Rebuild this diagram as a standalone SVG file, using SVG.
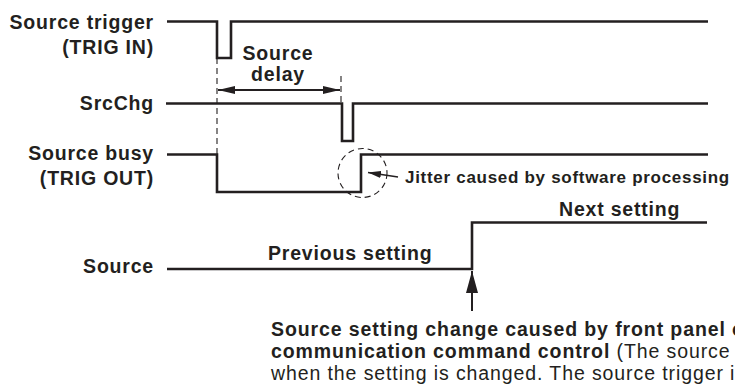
<svg xmlns="http://www.w3.org/2000/svg" width="735" height="385" viewBox="0 0 735 385">
<style>
.wave{fill:none;stroke:#231f20;stroke-width:2.6;stroke-linejoin:miter;stroke-linecap:butt}
.dash{fill:none;stroke:#231f20;stroke-width:1.1;stroke-dasharray:6 4}
.arr{fill:none;stroke:#231f20}
.lbl{font-family:"Liberation Sans",Arial,sans-serif;font-weight:bold;font-size:19.5px;fill:#231f20;letter-spacing:0.8px}
.end{text-anchor:end}
.note{font-family:"Liberation Sans",Arial,sans-serif;font-size:19.5px;fill:#231f20;letter-spacing:0.9px}
.b{font-weight:bold}
</style>
<defs>
<marker id="mDelay" markerUnits="userSpaceOnUse" markerWidth="18" markerHeight="10" refX="17" refY="4" orient="auto-start-reverse">
<path d="M0,0 L17,4 L0,8 z" fill="#231f20"/>
</marker>
<marker id="mJit" markerUnits="userSpaceOnUse" markerWidth="14" markerHeight="8" refX="13" refY="3.5" orient="auto">
<path d="M0,0 L13,3.5 L0,7 z" fill="#231f20"/>
</marker>
<marker id="mUp" markerUnits="userSpaceOnUse" markerWidth="24" markerHeight="14" refX="22" refY="6" orient="auto">
<path d="M0,0 L22,6 L0,12 z" fill="#231f20"/>
</marker>
</defs>

<g id="sig-trigger">
<text class="lbl end" x="154" y="28.5">Source trigger</text>
<text class="lbl end" x="154" y="54">(TRIG IN)</text>
<path class="wave" d="M167,21.5 H217 V58 H231 V21.5 H708"/>
</g>

<g id="sig-srcchg">
<text class="lbl end" x="154" y="110">SrcChg</text>
<path class="wave" d="M166,103.5 H342 V141 H353 V103.5 H708"/>
</g>

<g id="sig-busy">
<text class="lbl end" x="154" y="160">Source busy</text>
<text class="lbl end" x="154" y="184.5">(TRIG OUT)</text>
<path class="wave" d="M167,154.5 H217 V192 H361 V154.5 H708"/>
</g>

<g id="sig-source">
<text class="lbl end" x="154" y="273">Source</text>
<path class="wave" d="M167,269 H472 V222.5 H707"/>
<text class="lbl" x="268" y="260">Previous setting</text>
<text class="lbl" x="559" y="216">Next setting</text>
</g>

<g id="delay-label">
<text class="lbl" x="278" y="60" text-anchor="middle">Source</text>
<text class="lbl" x="278" y="81" text-anchor="middle">delay</text>
</g>

<g id="jitter">
<circle cx="362.5" cy="173" r="24.5" class="dash"/>
<text class="lbl" x="405" y="183" style="font-size:17px" textLength="325" lengthAdjust="spacing">Jitter caused by software processing</text>
</g>

<g id="note">
<text class="note b" x="271" y="336">Source setting change caused by front panel or</text>
<text class="note" x="271" y="358"><tspan class="b">communication command control</tspan> (The source</text>
<text class="note" x="271" y="380">when the setting is changed. The source trigger is</text>
</g>

<g id="connectors">
<line class="dash" x1="217" y1="58" x2="217" y2="154"/>
<line class="dash" x1="341" y1="76" x2="341" y2="103"/>
<line class="arr" x1="218" y1="90" x2="340" y2="90" stroke-width="2" marker-start="url(#mDelay)" marker-end="url(#mDelay)"/>
<line class="arr" x1="398" y1="177" x2="368" y2="172.5" stroke-width="1.6" marker-end="url(#mJit)"/>
<line class="arr" x1="472" y1="311" x2="472" y2="271" stroke-width="2" marker-end="url(#mUp)"/>
</g>
</svg>
